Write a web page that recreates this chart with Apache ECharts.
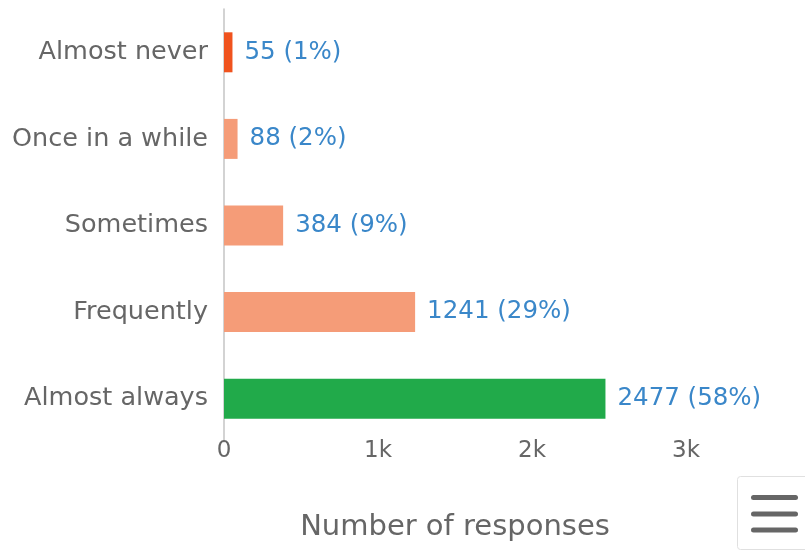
<!DOCTYPE html>
<html><head><meta charset="utf-8">
<script src="https://cdn.jsdelivr.net/npm/echarts@6/dist/echarts.min.js"></script>
<style>html,body{margin:0;padding:0;background:#fff}#c{width:805px;height:550px}</style>
</head><body><div id="c"></div>
<script>
const categories = ["Almost never", "Once in a while", "Sometimes", "Frequently", "Almost always"];
const counts = [55, 88, 384, 1241, 2477];
const percents = [1, 2, 9, 29, 58];
const barColors = ["#f0531e", "#f59c78", "#f59c78", "#f59c78", "#21aa4a"];
const xTicks = [0, 1000, 2000, 3000];

const FONT = "'DejaVu Sans', sans-serif";
const chart = echarts.init(document.getElementById('c'));
chart.setOption({
  animation: false,
  textStyle: { fontFamily: FONT },
  grid: { left: 224, right: 119, top: 9, bottom: 108, containLabel: false },
  xAxis: {
    type: 'value', min: 0, max: 3000, interval: 1000,
    axisLine: { show: false }, axisTick: { show: false }, splitLine: { show: false },
    axisLabel: { color: '#666', fontSize: 23, fontFamily: FONT, margin: -2,
      formatter: v => v === 0 ? '0' : (v / 1000) + 'k' },
    name: 'Number of responses', nameLocation: 'middle', nameGap: 71,
    nameTextStyle: { color: '#666', fontSize: 29, fontFamily: FONT }
  },
  yAxis: {
    type: 'category', data: categories, inverse: true,
    axisLine: { show: true, lineStyle: { color: '#c4c4c4', width: 1.5 } },
    axisTick: { show: false },
    axisLabel: { color: '#666', fontSize: 25.5, fontFamily: FONT, margin: 16 }
  },
  series: [{
    type: 'bar', barWidth: 40,
    data: counts.map((v, i) => ({ value: v, itemStyle: { color: barColors[i] } })),
    label: { show: true, position: 'right', distance: 12, color: '#3a87c9', fontSize: 24.5, fontFamily: FONT,
      formatter: p => counts[p.dataIndex] + ' (' + percents[p.dataIndex] + '%)' }
  }],
  graphic: [
    { type: 'rect', left: 737, top: 476, shape: { width: 72, height: 73, r: 3 },
      style: { fill: '#fff', stroke: '#e0e0e0', lineWidth: 1 } },
    { type: 'rect', left: 751, top: 495, shape: { width: 47, height: 5, r: 2.5 }, style: { fill: '#666' } },
    { type: 'rect', left: 751, top: 511.5, shape: { width: 47, height: 5, r: 2.5 }, style: { fill: '#666' } },
    { type: 'rect', left: 751, top: 527.5, shape: { width: 47, height: 5, r: 2.5 }, style: { fill: '#666' } }
  ]
});
</script></body></html>
